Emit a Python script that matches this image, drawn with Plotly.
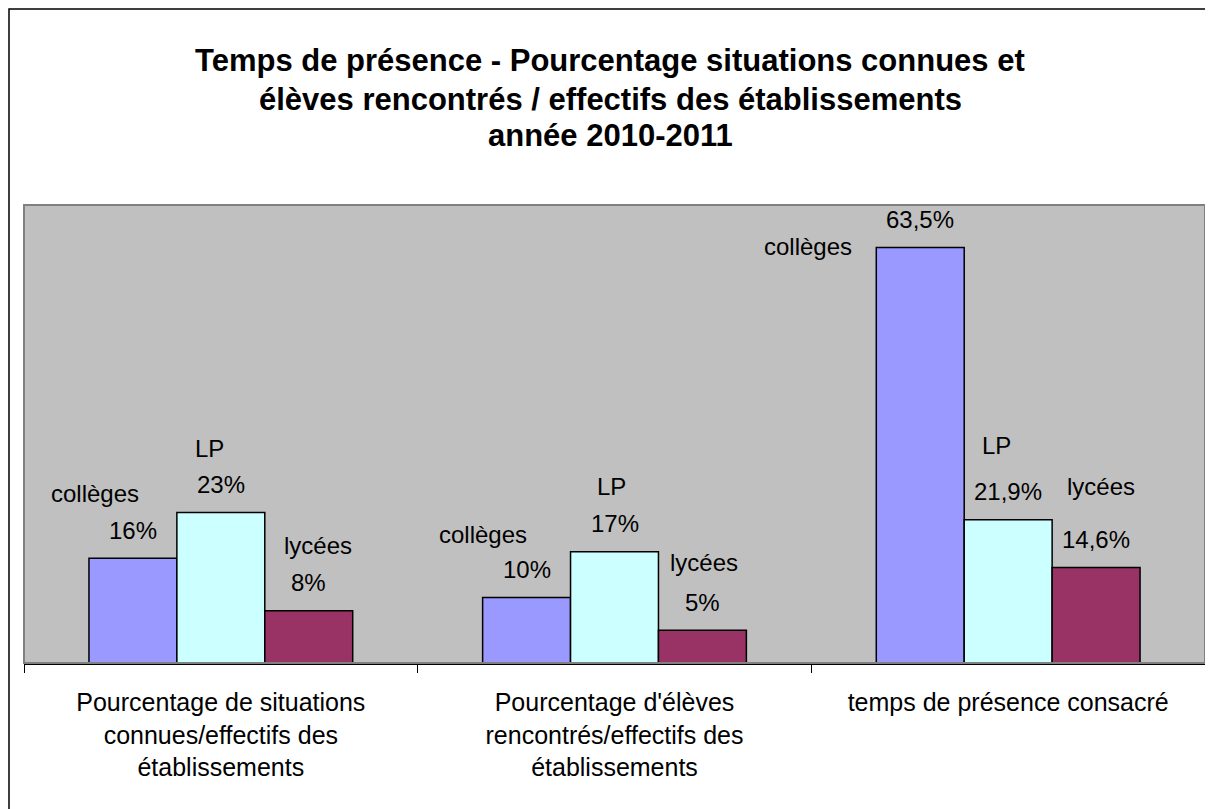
import plotly.graph_objects as go

categories = [
    "Pourcentage de situations<br>connues/effectifs des<br>établissements",
    "Pourcentage d'élèves<br>rencontrés/effectifs des<br>établissements",
    "temps de présence consacré",
]
series_names = ["collèges", "LP", "lycées"]
colleges = [16, 10, 63.5]
lp = [23, 17, 21.9]
lycees = [8, 5, 14.6]
series_values = [colleges, lp, lycees]
colors = ["#9999FF", "#CCFFFF", "#993366"]

title_lines = [
    "Temps de présence - Pourcentage situations connues et",
    "élèves rencontrés / effectifs des établissements",
    "année 2010-2011",
]

# layout constants (pixels, figure coordinates; page body adds an 8px margin)
W, H = 1205, 801
ML, MR, MT, MB = 16, 8, 197, 146
plot_w = W - ML - MR
plot_h = H - MT - MB
BARGAP = 0.33
YMAX = 70
bar_px = plot_w / len(categories) * (1 - BARGAP) / len(series_names)

# label nudges (pixels): (dx, dy) of series name relative to bar centre/top
name_nudge = [
    [(-38, 65), (-44, 63), (-112, 1)],
    [(-11, 64), (-3, 65), (-12, 74)],
    [(9, 65), (1.5, 68), (5, 81)],
]
VALUE_DY = 28
FONT = "Liberation Sans, Arial, sans-serif"
LABEL_SIZE = 24


def fmt(v):
    if float(v).is_integer():
        return f"{int(v)}%"
    return f"{v}".replace(".", ",") + "%"


fig = go.Figure()
for i, (name, vals, col) in enumerate(zip(series_names, series_values, colors)):
    fig.add_trace(go.Bar(
        x=categories, y=vals, name=name,
        marker=dict(color=col, line=dict(color="black", width=1.5)),
        hoverinfo="skip",
    ))

annotations = []
for i, (name, vals) in enumerate(zip(series_names, series_values)):
    off = (i - 1) * bar_px
    for j, (cat, v) in enumerate(zip(categories, vals)):
        annotations.append(dict(
            x=cat, y=v, xref="x", yref="y", text=fmt(v), showarrow=False,
            xshift=off, yshift=VALUE_DY, yanchor="middle", xanchor="center",
            font=dict(family=FONT, size=LABEL_SIZE, color="black"),
        ))
        dx, dy = name_nudge[i][j]
        annotations.append(dict(
            x=cat, y=v, xref="x", yref="y", text=name, showarrow=False,
            xshift=off + dx, yshift=dy, yanchor="middle", xanchor="center",
            font=dict(family=FONT, size=LABEL_SIZE, color="black"),
        ))

title_y = [52, 91, 128]
for line, ty in zip(title_lines, title_y):
    annotations.append(dict(
        x=(602 - ML) / plot_w, y=1 + (MT - ty) / plot_h, xref="paper", yref="paper",
        text=f"<b>{line}</b>", showarrow=False, xanchor="center", yanchor="middle",
        font=dict(family=FONT, size=31, color="black"),
    ))

shapes = [
    # plot-area frame
    dict(type="rect", xref="paper", yref="paper", x0=0, x1=1, y0=0, y1=1,
         line=dict(color="#808080", width=2), layer="above"),
    # chart outer border
    dict(type="rect", xref="paper", yref="paper",
         x0=(1 - ML) / plot_w, x1=(W + 5 - ML) / plot_w,
         y0=-(MB + 5) / plot_h, y1=1 + (MT - 1) / plot_h,
         line=dict(color="black", width=1.5)),
]

fig.update_layout(
    width=W, height=H,
    margin=dict(l=ML, r=MR, t=MT, b=MB, pad=0),
    paper_bgcolor="white", plot_bgcolor="#C0C0C0",
    barmode="group", bargap=BARGAP, bargroupgap=0,
    showlegend=False,
    annotations=annotations, shapes=shapes,
    font=dict(family=FONT, color="black"),
)
fig.update_xaxes(
    showline=True, linecolor="black", linewidth=2,
    ticks="outside", tickson="boundaries", ticklen=8, tickcolor="black", tickwidth=1,
    tickfont=dict(family=FONT, size=25, color="black"),
    showgrid=False, tickangle=0, ticklabelstandoff=16,
)
fig.update_yaxes(range=[0, YMAX], showgrid=False, showticklabels=False, zeroline=False,
                 showline=False, ticks="")

fig.write_html("out.html")
